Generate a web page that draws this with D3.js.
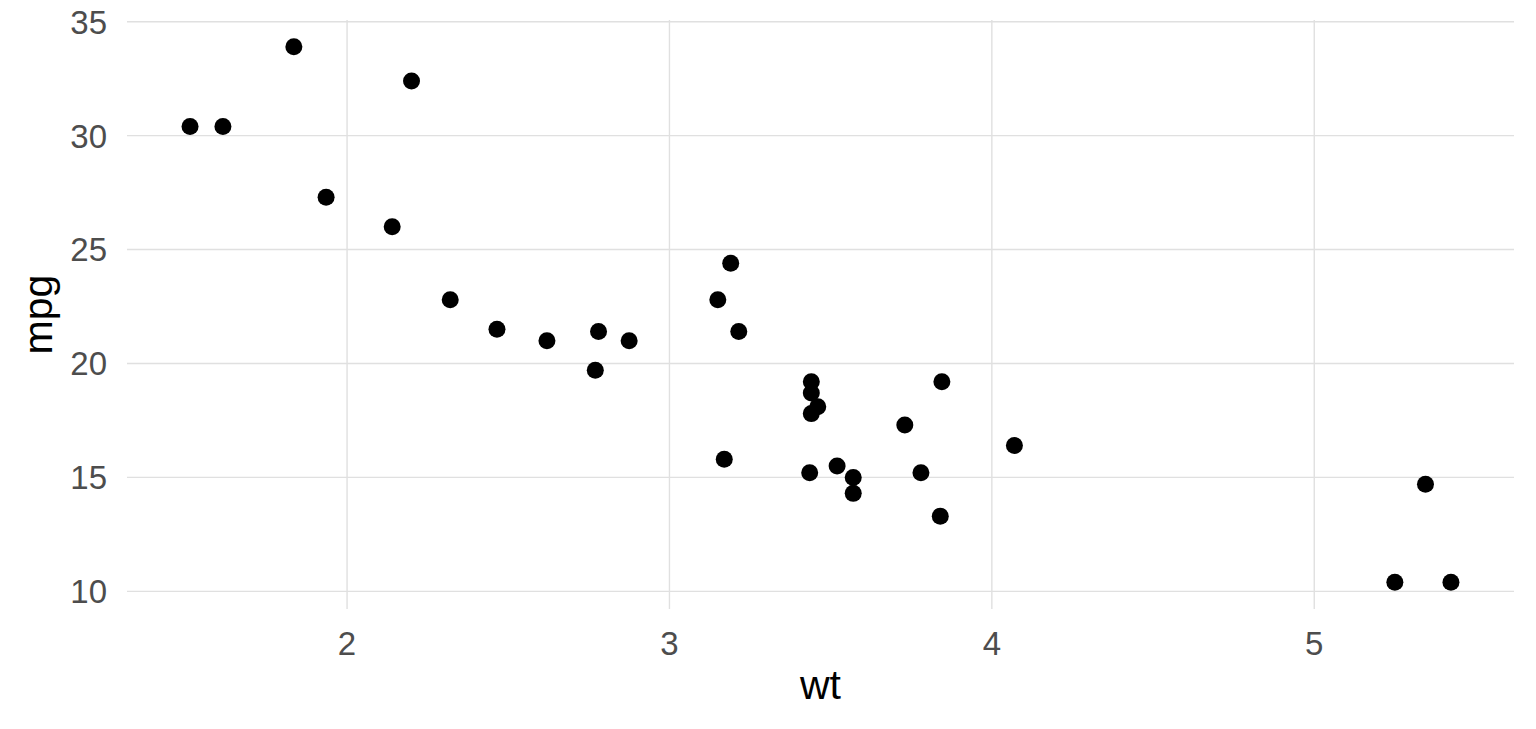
<!DOCTYPE html>
<script src="https://d3js.org/d3.v7.min.js"></script>
<body style="margin: 0; background: #fff;">
<svg id="chart" width="1536" height="729"></svg>
</body>

<style>
  .grid line { stroke: #e0e0e0; stroke-width: 1.4px; }
  .tick-label { font-family: "Liberation Sans", Arial, sans-serif; font-size: 33px; fill: #4d4d4d; }
  .axis-title { font-family: "Liberation Sans", Arial, sans-serif; font-size: 41px; fill: #000; }
</style>

<script>
// mtcars: weight (1000 lbs) vs miles per gallon
var wt  = [2.620, 2.875, 2.320, 3.215, 3.440, 3.460, 3.570, 3.190, 3.150, 3.440, 3.440,
           4.070, 3.730, 3.780, 5.250, 5.424, 5.345, 2.200, 1.615, 1.835, 2.465, 3.520,
           3.435, 3.840, 3.845, 1.935, 2.140, 1.513, 3.170, 2.770, 3.570, 2.780];
var mpg = [21.0, 21.0, 22.8, 21.4, 18.7, 18.1, 14.3, 24.4, 22.8, 19.2, 17.8,
           16.4, 17.3, 15.2, 10.4, 10.4, 14.7, 32.4, 30.4, 33.9, 21.5, 15.5,
           15.2, 13.3, 19.2, 27.3, 26.0, 30.4, 15.8, 19.7, 15.0, 21.4];
var xTicks = [2, 3, 4, 5];
var yTicks = [10, 15, 20, 25, 30, 35];

var svg = d3.select("#chart");
var margin = {top: 20, right: 22, bottom: 120, left: 127};
var width = 1536, height = 729;

// ggplot-style 5% expansion
function expand(ext) {
  var d = (ext[1] - ext[0]) * 0.05;
  return [ext[0] - d, ext[1] + d];
}

var x = d3.scaleLinear()
    .domain(expand(d3.extent(wt)))
    .range([margin.left, width - margin.right]);
var y = d3.scaleLinear()
    .domain(expand(d3.extent(mpg)))
    .range([height - margin.bottom, margin.top]);

var grid = svg.append("g").attr("class", "grid");
grid.selectAll("line.h")
  .data(yTicks)
  .join("line")
    .attr("class", "h")
    .attr("x1", x.range()[0]).attr("x2", x.range()[1])
    .attr("y1", function(d) { return y(d); })
    .attr("y2", function(d) { return y(d); });
grid.selectAll("line.v")
  .data(xTicks)
  .join("line")
    .attr("class", "v")
    .attr("y1", y.range()[0]).attr("y2", y.range()[1])
    .attr("x1", function(d) { return x(d); })
    .attr("x2", function(d) { return x(d); });

svg.append("g").selectAll("text")
  .data(yTicks)
  .join("text")
    .attr("class", "tick-label")
    .attr("x", margin.left - 20)
    .attr("y", function(d) { return y(d); })
    .attr("dy", "0.36em")
    .attr("text-anchor", "end")
    .text(function(d) { return d; });

svg.append("g").selectAll("text")
  .data(xTicks)
  .join("text")
    .attr("class", "tick-label")
    .attr("x", function(d) { return x(d); })
    .attr("y", y.range()[0] + 46)
    .attr("text-anchor", "middle")
    .text(function(d) { return d; });

svg.append("text")
  .attr("class", "axis-title")
  .attr("x", (x.range()[0] + x.range()[1]) / 2)
  .attr("y", 699)
  .attr("text-anchor", "middle")
  .text("wt");

svg.append("text")
  .attr("class", "axis-title")
  .attr("transform", "translate(52," + (y.range()[0] + y.range()[1]) / 2 + ") rotate(-90)")
  .attr("text-anchor", "middle")
  .text("mpg");

svg.append("g").selectAll("circle")
  .data(d3.range(wt.length))
  .join("circle")
    .attr("cx", function(i) { return x(wt[i]); })
    .attr("cy", function(i) { return y(mpg[i]); })
    .attr("r", 8.5)
    .attr("fill", "#000");
</script>
